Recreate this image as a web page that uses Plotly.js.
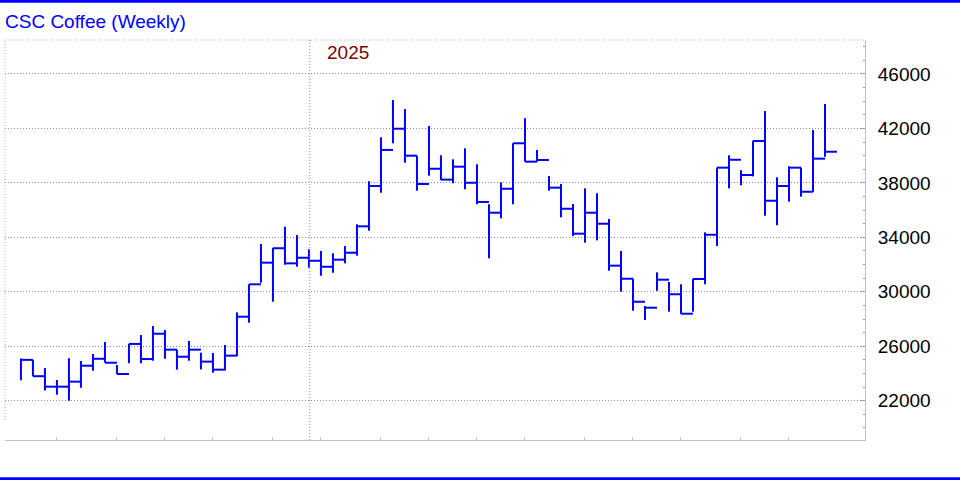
<!DOCTYPE html>
<html>
<head>
<meta charset="utf-8">
<script src="https://cdn.plot.ly/plotly-3.0.1.min.js"></script>
<style>html,body{margin:0;padding:0;background:#fff;}#chart{width:960px;height:480px;}</style>
</head>
<body>
<div id="chart"></div>
<script>
// Weekly bars (week ending Friday)
var weeks = [
 '2024-07-12','2024-07-19','2024-07-26','2024-08-02','2024-08-09','2024-08-16','2024-08-23','2024-08-30',
 '2024-09-06','2024-09-13','2024-09-20','2024-09-27','2024-10-04','2024-10-11','2024-10-18','2024-10-25',
 '2024-11-01','2024-11-08','2024-11-15','2024-11-22','2024-11-29','2024-12-06','2024-12-13','2024-12-20',
 '2024-12-27','2025-01-03','2025-01-10','2025-01-17','2025-01-24','2025-01-31','2025-02-07','2025-02-14',
 '2025-02-21','2025-02-28','2025-03-07','2025-03-14','2025-03-21','2025-03-28','2025-04-04','2025-04-11',
 '2025-04-18','2025-04-25','2025-05-02','2025-05-09','2025-05-16','2025-05-23','2025-05-30','2025-06-06',
 '2025-06-13','2025-06-20','2025-06-27','2025-07-04','2025-07-11','2025-07-18','2025-07-25','2025-08-01',
 '2025-08-08','2025-08-15','2025-08-22','2025-08-29','2025-09-05','2025-09-12','2025-09-19','2025-09-26',
 '2025-10-03','2025-10-10','2025-10-17','2025-10-24'
];
var highs = [
 25100,25000,24400,23520,25120,24920,25430,26310,24620,26170,26830,27490,27190,25750,26390,25530,
 25500,26090,28490,30550,33510,33220,34780,34170,33120,33000,32830,33360,34960,38120,41350,44090,
 43430,40000,42180,40030,39730,40540,39370,36430,38040,40910,42750,40420,38510,37920,36450,37600,
 37240,35350,33000,30960,28960,31430,30720,30550,30960,34370,39120,40030,38930,41100,43280,38410,
 39220,39120,41890,43800
];
var lows = [
 23500,23800,22750,22440,22000,22950,24200,24790,23960,24750,24750,24940,25080,24280,24940,24300,
 24060,24230,25280,27730,30670,29270,31990,31840,31770,31180,31400,32090,32650,34490,37280,40910,
 39480,37430,38530,38210,37970,37530,36430,32460,35400,36430,39560,39560,37430,35470,34100,33610,
 33780,31550,30010,28610,27930,30080,28540,28370,28540,30550,33360,37600,37820,38480,35590,34890,
 36620,36990,37350,39920
];
var closes = [
 25000,23800,23030,23030,23400,24570,25080,24790,23960,26170,25060,26920,25750,25230,25750,24870,
 24280,25310,28170,30550,32140,33200,32090,32500,32280,31840,32360,32870,34810,37770,40420,41980,
 40000,37920,39040,38240,39190,38010,36600,35810,37570,40910,39560,39680,37650,36100,34270,35810,
 35000,31920,30960,29270,28830,30890,29820,28390,30940,34190,39120,39700,38580,41080,36690,37770,
 39120,37350,39780,40290
];
var monthTicks = ['2024-08-02','2024-09-06','2024-10-04','2024-11-01','2024-12-06','2025-01-03',
 '2025-02-07','2025-03-07','2025-04-04','2025-05-02','2025-06-06','2025-07-04','2025-08-01',
 '2025-09-05','2025-10-03'];
var yTickLabels = ['22000','26000','30000','34000','38000','42000','46000'];
var yTickVals = yTickLabels.map(Number);
var yearBreak = '2024-12-27 12:00';
var yearLabel = '2025';
var titleText = 'CSC Coffee (Weekly)';

// Build HLC bar path: vertical high-low, close tick reaching to the next week
function addDays(s, n) {
  var d = new Date(s + 'T00:00:00Z');
  d.setUTCDate(d.getUTCDate() + n);
  return d.toISOString().slice(0, 10);
}
var px = [], py = [];
for (var i = 0; i < weeks.length; i++) {
  px.push(weeks[i], weeks[i], null, weeks[i], addDays(weeks[i], 7), null);
  py.push(lows[i], highs[i], null, closes[i], closes[i], null);
}

var font = "'Liberation Sans', Arial, sans-serif";
var trace = {
  type: 'scatter', mode: 'lines', x: px, y: py,
  line: {color: '#0000ff', width: 2},
  connectgaps: false, hoverinfo: 'skip', showlegend: false
};

var layout = {
  width: 960, height: 480,
  margin: {l: 5, r: 95, t: 40, b: 40, pad: 0},
  paper_bgcolor: '#ffffff', plot_bgcolor: '#ffffff',
  font: {family: font, size: 19, color: '#000000'},
  title: {
    text: titleText, font: {family: font, size: 19, color: '#0000ff'},
    xref: 'container', yref: 'container', x: 5/960, xanchor: 'left', y: 1 - 21/480, yanchor: 'middle'
  },
  xaxis: {
    type: 'date', range: ['2024-07-02 17:00', '2025-11-16 08:00'],
    showgrid: false, zeroline: false, showline: true, linecolor: '#c0c0c0', linewidth: 1,
    ticks: 'inside', ticklen: 3, tickcolor: '#c0c0c0', tickmode: 'array', tickvals: monthTicks,
    showticklabels: false, fixedrange: true
  },
  yaxis: {
    side: 'right', range: [19113, 48497],
    tickmode: 'array', tickvals: yTickVals, ticktext: yTickLabels,
    showgrid: true, gridcolor: '#8c8c8c', griddash: '1px,2px', gridwidth: 1,
    zeroline: false, showline: true, linecolor: '#c0c0c0', linewidth: 1,
    ticks: 'inside', ticklen: 4, tickcolor: '#a0a0a0', ticklabelstandoff: 8,
    minor: {dtick: 1000, tick0: 22000, ticks: 'inside', ticklen: 2, tickcolor: '#a0a0a0', showgrid: false},
    tickfont: {family: font, size: 19, color: '#000000'}, fixedrange: true
  },
  shapes: [
    {type: 'line', xref: 'x', yref: 'paper', x0: yearBreak, x1: yearBreak, y0: 0, y1: 1,
     line: {color: '#8c8c8c', width: 1, dash: '1px,2px'}},
    {type: 'line', xref: 'paper', yref: 'paper', x0: 0, x1: 1, y0: 1, y1: 1,
     line: {color: '#b0b0b0', width: 1, dash: '1px,2px'}},
    {type: 'line', xref: 'paper', yref: 'paper', x0: 0, x1: 0, y0: 0.05, y1: 1,
     line: {color: '#b0b0b0', width: 1, dash: '1px,2px'}},
    {type: 'line', xref: 'paper', yref: 'paper', x0: -5/860, x1: 955/860, y0: 438.7/400, y1: 438.7/400,
     line: {color: '#0000ff', width: 3}},
    {type: 'line', xref: 'paper', yref: 'paper', x0: -5/860, x1: 955/860, y0: -38.7/400, y1: -38.7/400,
     line: {color: '#0000ff', width: 3}}
  ],
  annotations: [
    {text: yearLabel, xref: 'x', yref: 'paper', x: yearBreak, xanchor: 'left', xshift: 15,
     y: (440 - 53) / 400, yanchor: 'middle', showarrow: false,
     font: {family: font, size: 19, color: '#800000'}}
  ]
};

Plotly.newPlot('chart', [trace], layout, {staticPlot: true, displayModeBar: false});
</script>
</body>
</html>
